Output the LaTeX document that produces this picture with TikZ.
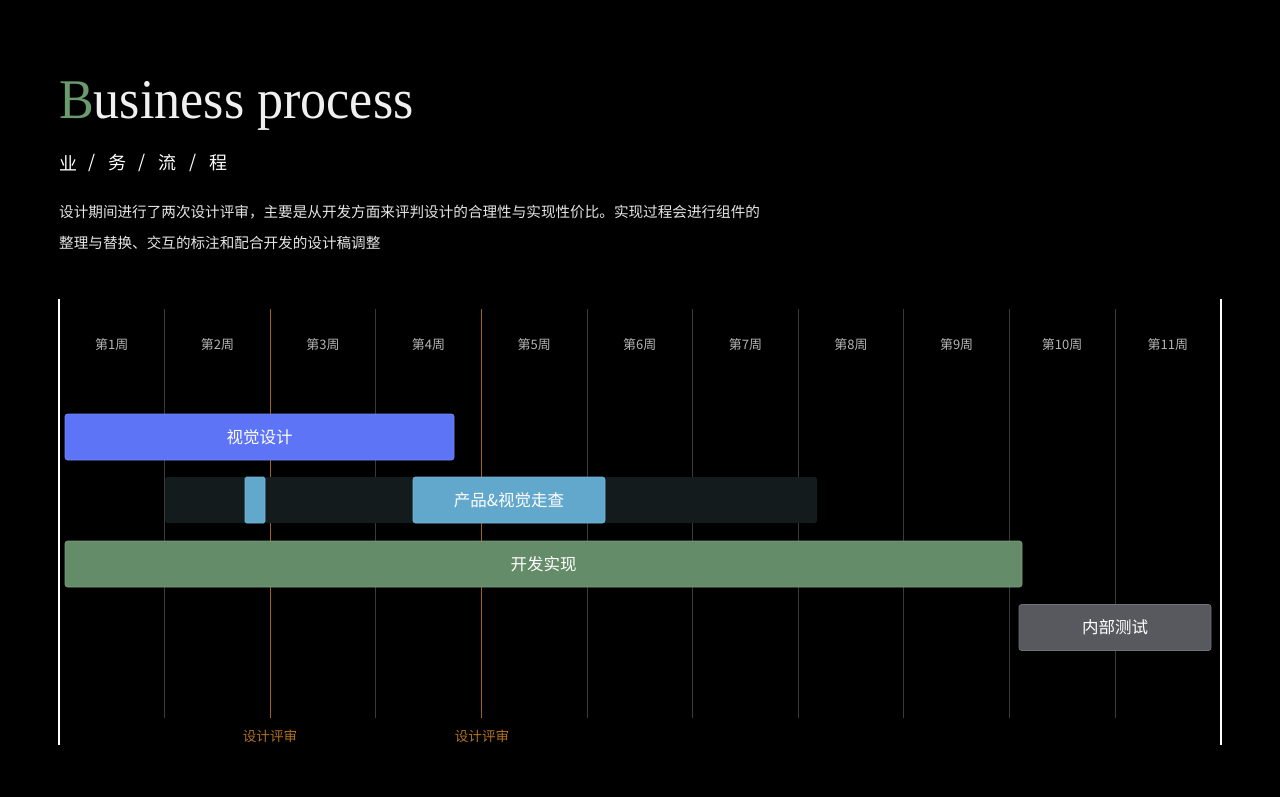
\documentclass[tikz,border=0pt]{standalone}
\usepackage{fontspec}
\usepackage{graphicx}
\setmainfont{Liberation Serif}
\newfontfamily\cjk{Noto Sans CJK SC}
\definecolor{tgreen}{HTML}{6A9A6E}
\definecolor{barblue}{HTML}{5C74F5}
\definecolor{barlblue}{HTML}{62A8CC}
\definecolor{track}{HTML}{131B1D}
\definecolor{bargreen}{HTML}{648C68}
\definecolor{bargray}{HTML}{58595E}
\definecolor{review}{HTML}{A3620F}
\definecolor{reviewtext}{HTML}{B07020}
\definecolor{gridgray}{HTML}{3A3A3A}
\definecolor{weektext}{HTML}{B4B4B4}
\tikzset{
  bar/.style={rectangle, rounded corners=2.5pt, inner sep=0pt, text=white,
    font=\cjk\fontsize{16.5}{18}\selectfont, line width=0.6pt},
  week/.style={inner sep=0pt, text=weektext, font=\cjk\fontsize{13}{15}\selectfont},
  para/.style={anchor=west, inner sep=0pt, text=white!90!black, font=\cjk\fontsize{14.6}{17}\selectfont},
  sub/.style={inner sep=0pt, text=white, font=\cjk\fontsize{18}{20}\selectfont},
  revlabel/.style={inner sep=0pt, text=reviewtext, font=\cjk\fontsize{13.6}{15}\selectfont},
}
\begin{document}
\begin{tikzpicture}[x=1pt,y=-1pt]
\fill[black] (0,0) rectangle (1280,797);
\useasboundingbox (0,0) rectangle (1280,797);

% title
\node[anchor=base west, inner sep=0pt, text=white!94!black] (title) at (59,119)
  {\scalebox{0.93}[1]{\fontsize{56}{60}\selectfont\textcolor{tgreen}{B}usiness process}};

% subtitle
\node[sub] (s1) at (68.5,163) {业};
\node[sub] (d1) at (92.5,163) {/};
\node[sub] (s2) at (117.5,163) {务};
\node[sub] (d2) at (142.5,163) {/};
\node[sub] (s3) at (167.5,163) {流};
\node[sub] (d3) at (193,163) {/};
\node[sub] (s4) at (218.5,163) {程};

% paragraph
\node[para] (p1) at (59,212) {设计期间进行了两次设计评审，主要是从开发方面来评判设计的合理性与实现性价比。实现过程会进行组件的};
\node[para] (p2) at (59,243) {整理与替换、交互的标注和配合开发的设计稿调整};

% grid
\foreach \k in {1,3,5,6,7,8,9,10} {
  \draw[gridgray, line width=1pt] ({59+105.6*\k},309) -- ({59+105.6*\k},718);
}
\foreach \k in {2,4} {
  \draw[review, line width=1pt] ({59+105.6*\k},309) -- ({59+105.6*\k},718);
}
\draw[white, line width=1.6pt] (59,299) -- (59,745);
\draw[white, line width=1.6pt] (1221,299) -- (1221,745);

% weeks
\foreach \i in {1,...,11} {
  \node[week] (w\i) at ({59+105.6*(\i-0.5)},345) {第{\i}周};
}

% bars
\node[bar, fill=barblue, draw=barblue!85!white, minimum width=389pt, minimum height=46pt] (vis) at (259.5,437) {视觉设计};
\node[bar, fill=track, minimum width=652pt, minimum height=46pt] (trk) at (491,500) {};
\node[bar, fill=barlblue, draw=barlblue!85!white, rounded corners=1.5pt, minimum width=20pt, minimum height=46pt] (chk1) at (255,500) {};
\node[bar, fill=barlblue, draw=barlblue!85!white, minimum width=192pt, minimum height=46pt] (chk2) at (509,500) {产品\&视觉走查};
\node[bar, fill=bargreen, draw=bargreen!85!white, minimum width=957pt, minimum height=46pt] (dev) at (543.5,564) {开发实现};
\node[bar, fill=bargray, draw=bargray!85!white, minimum width=192pt, minimum height=46pt] (test) at (1115,627.5) {内部测试};

% review labels
\node[revlabel] (r1) at (270,736) {设计评审};
\node[revlabel] (r2) at (482,736) {设计评审};
\end{tikzpicture}
\end{document}
